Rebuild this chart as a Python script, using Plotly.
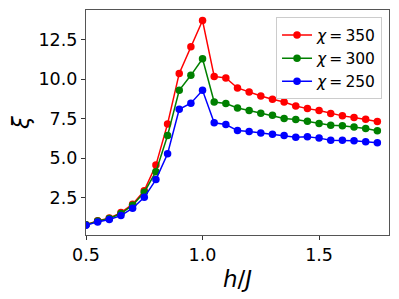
import plotly.graph_objects as go

h = [0.5, 0.55, 0.6, 0.65, 0.7, 0.75, 0.8, 0.85, 0.9, 0.95, 1.0, 1.05, 1.1,
     1.15, 1.2, 1.25, 1.3, 1.35, 1.4, 1.45, 1.5, 1.55, 1.6, 1.65, 1.7, 1.75]

xi_350 = [0.78, 1.03, 1.20, 1.55, 2.08, 2.94, 4.56, 7.17, 10.37, 12.06, 13.72,
          10.18, 10.08, 9.45, 9.19, 8.94, 8.73, 8.56, 8.31, 8.14, 8.02, 7.83,
          7.68, 7.58, 7.47, 7.32]
xi_300 = [0.78, 1.01, 1.18, 1.49, 2.02, 2.84, 4.14, 6.44, 9.30, 10.25, 11.30,
          8.56, 8.46, 8.18, 8.02, 7.85, 7.72, 7.51, 7.45, 7.34, 7.19, 7.09,
          7.05, 6.98, 6.88, 6.73]
xi_250 = [0.75, 0.96, 1.11, 1.36, 1.83, 2.52, 3.64, 5.28, 8.10, 8.48, 9.30,
          7.24, 7.13, 6.75, 6.69, 6.60, 6.52, 6.44, 6.33, 6.35, 6.27, 6.14,
          6.14, 6.10, 6.04, 5.97]

series = [("<i>χ</i>\u2009=\u2009350", xi_350, "red"),
          ("<i>χ</i>\u2009=\u2009300", xi_300, "green"),
          ("<i>χ</i>\u2009=\u2009250", xi_250, "blue")]

xticks = [0.5, 1.0, 1.5]
xticklabels = ["0.5", "1.0", "1.5"]
yticks = [2.5, 5.0, 7.5, 10.0, 12.5]
yticklabels = ["2.5", "5.0", "7.5", "10.0", "12.5"]

fig = go.Figure()
for name, ys, col in series:
    fig.add_trace(go.Scatter(
        x=h, y=ys, name=name, mode="lines+markers",
        line=dict(color=col, width=1.5),
        marker=dict(color=col, size=7.5),
    ))

font_family = "DejaVu Sans"
# page body has an 8px default margin, so the figure is sized to fit the window
fig.update_layout(
    width=391, height=291,
    margin=dict(l=78, r=10, t=2, b=64, autoexpand=False),
    paper_bgcolor="white", plot_bgcolor="white",
    font=dict(family=font_family, color="black", size=16),
    showlegend=True,
    legend=dict(
        x=0.977, y=0.967, xanchor="right", yanchor="top",
        bordercolor="#cccccc", borderwidth=1, bgcolor="rgba(255,255,255,0.8)",
        font=dict(size=15.5, family=font_family),
        itemwidth=30, tracegroupgap=0,
    ),
    xaxis=dict(
        range=[0.5, 1.8], tickvals=xticks, ticktext=xticklabels,
        showgrid=False, zeroline=False, showline=True, mirror=True,
        linecolor="#555555", linewidth=1.2, automargin=False,
        ticks="outside", ticklen=4, tickcolor="#333333",
        tickfont=dict(size=17.5),
        title=dict(text="<i>h</i>/<i>J</i>", font=dict(size=23), standoff=6),
    ),
    yaxis=dict(
        range=[0.13, 14.39], tickvals=yticks, ticktext=yticklabels,
        showgrid=False, zeroline=False, showline=True, mirror=True,
        linecolor="#555555", linewidth=1.2, automargin=False,
        ticks="outside", ticklen=4, tickcolor="#333333",
        tickfont=dict(size=17.5),
        title=dict(text="<i>ξ</i>", font=dict(size=23), standoff=12),
    ),
)

fig.write_html("out.html")
